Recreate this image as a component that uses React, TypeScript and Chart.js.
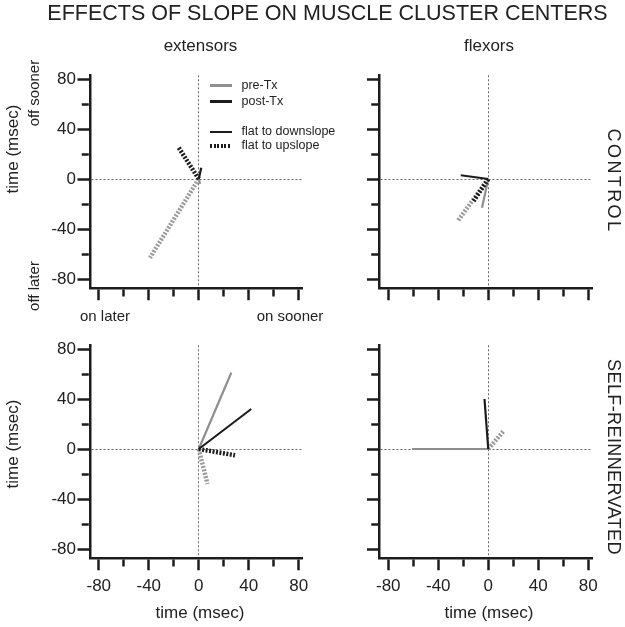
import React, { useEffect, useRef } from 'react';
import { Chart, registerables } from 'chart.js';

Chart.register(...registerables);

// ---- axis data ----
const AXIS_MIN = -87;
const AXIS_MAX = 83;
const TICK_STEP = 20;
const MAJOR_STEP = 40;

// ---- series data: end point [x, y] of each shift vector (all start at origin) ----
// extensors, CONTROL
const extCtrlPreDown = [1, -4];
const extCtrlPreUp = [-39, -63];
const extCtrlPostDown = [2, 9];
const extCtrlPostUp = [-16, 25];
// flexors, CONTROL
const flxCtrlPreDown = [-5, -23];
const flxCtrlPreUp = [-24, -33];
const flxCtrlPostDown = [-22, 3];
const flxCtrlPostUp = [-12, -18];
// extensors, SELF-REINNERVATED
const extSelfPreDown = [26, 61];
const extSelfPreUp = [7, -28];
const extSelfPostDown = [42, 32];
const extSelfPostUp = [29, -5];
// flexors, SELF-REINNERVATED
const flxSelfPreDown = [-61, 0];
const flxSelfPreUp = [12, 14];
const flxSelfPostDown = [-3, 40];
const flxSelfPostUp = [0, 0];

const FONT = "'Liberation Sans', Arial, Helvetica, sans-serif";
const GRAY = '#8f8f8f';
const BLACK = '#1c1c1c';
const TEXT = '#222';

type Panel = {
  area: { l: number; t: number; r: number; b: number };
  xLabels: boolean;
  yLabels: boolean;
  postDown: number[];
  postUp: number[];
  preDown: number[];
  preUp: number[];
};

const panels: Panel[] = [
  { area: { l: 90, t: 75.25, r: 302.5, b: 287.75 }, xLabels: false, yLabels: true,
    postDown: extCtrlPostDown, postUp: extCtrlPostUp, preDown: extCtrlPreDown, preUp: extCtrlPreUp },
  { area: { l: 379.5, t: 75.25, r: 592, b: 287.75 }, xLabels: false, yLabels: false,
    postDown: flxCtrlPostDown, postUp: flxCtrlPostUp, preDown: flxCtrlPreDown, preUp: flxCtrlPreUp },
  { area: { l: 90, t: 345.25, r: 302.5, b: 557.75 }, xLabels: true, yLabels: true,
    postDown: extSelfPostDown, postUp: extSelfPostUp, preDown: extSelfPreDown, preUp: extSelfPreUp },
  { area: { l: 379.5, t: 345.25, r: 592, b: 557.75 }, xLabels: true, yLabels: false,
    postDown: flxSelfPostDown, postUp: flxSelfPostUp, preDown: flxSelfPreDown, preUp: flxSelfPreUp },
];

const W = 625;
const H = 627;
const Y_W = 60;
const X_H = 45;
const TICK_LEN = 12.5;

function vec(end: number[]) {
  return [{ x: 0, y: 0 }, { x: end[0], y: end[1] }];
}

function isMajor(v: number) {
  return Math.abs(v % MAJOR_STEP) < 1e-6;
}

function makeScale(horizontal: boolean, showLabels: boolean, fit: number) {
  return {
    type: 'linear' as const,
    min: AXIS_MIN,
    max: AXIS_MAX,
    afterFit: (s: any) => {
      if (horizontal) s.height = fit; else s.width = fit;
    },
    ticks: {
      stepSize: TICK_STEP,
      includeBounds: false,
      autoSkip: false,
      maxRotation: 0,
      minRotation: 0,
      padding: horizontal ? 6 : 1.5,
      color: TEXT,
      font: { family: FONT, size: 17 },
      callback: (v: any) => (showLabels && isMajor(Number(v)) ? String(v) : ''),
    },
    grid: {
      display: true,
      drawOnChartArea: true,
      drawTicks: true,
      tickLength: TICK_LEN,
      tickWidth: 2.5,
      tickColor: BLACK,
      lineWidth: 1,
      color: (ctx: any) => (ctx.tick && ctx.tick.value === 0 ? '#6a6a6a' : 'rgba(0,0,0,0)'),
      tickBorderDash: (ctx: any) => {
        const v = ctx.tick ? ctx.tick.value : 0;
        if (isMajor(v)) return [];
        return horizontal ? [7, 20] : [0, 4.25, 7, 20];
      },
    },
    border: { display: true, color: BLACK, width: 2.5, dash: [2, 2] },
  };
}

function PanelChart({ p }: { p: Panel }) {
  const ref = useRef<HTMLCanvasElement>(null);
  useEffect(() => {
    const a = p.area;
    const chart = new Chart(ref.current as HTMLCanvasElement, {
      type: 'scatter',
      data: {
        datasets: [
          { label: 'post-Tx flat to downslope', data: vec(p.postDown), borderColor: BLACK, borderWidth: 2.2, showLine: true, pointRadius: 0 },
          { label: 'post-Tx flat to upslope', data: vec(p.postUp), borderColor: BLACK, borderWidth: 4.5, borderDash: [2, 1.5], showLine: true, pointRadius: 0 },
          { label: 'pre-Tx flat to downslope', data: vec(p.preDown), borderColor: GRAY, borderWidth: 2.2, showLine: true, pointRadius: 0 },
          { label: 'pre-Tx flat to upslope', data: vec(p.preUp), borderColor: '#9a9a9a', borderWidth: 4.5, borderDash: [2, 1.5], showLine: true, pointRadius: 0 },
        ],
      },
      options: {
        animation: false,
        responsive: false,
        events: [],
        layout: {
          padding: { left: a.l - Y_W, top: a.t, right: W - a.r, bottom: H - a.b - X_H },
        },
        plugins: { legend: { display: false }, tooltip: { enabled: false }, title: { display: false } },
        scales: {
          x: makeScale(true, p.xLabels, X_H) as any,
          y: makeScale(false, p.yLabels, Y_W) as any,
        },
      },
    });
    return () => chart.destroy();
  }, []);
  return <canvas ref={ref} width={W} height={H} style={{ position: 'absolute', left: 0, top: 0 }} />;
}

function Txt({ x, base, size, text, align = 'center' }: { x: number; base: number; size: number; text: string; align?: string }) {
  const top = base - 0.8465 * size;
  const tx = align === 'center' ? 'translateX(-50%)' : 'none';
  return (
    <div style={{ position: 'absolute', left: x, top, fontSize: size, lineHeight: 1, fontFamily: FONT, color: TEXT, whiteSpace: 'nowrap', transform: tx }}>
      {text}
    </div>
  );
}

function RotTxt({ cx, cy, size, text, deg, spacing = 0 }: { cx: number; cy: number; size: number; text: string; deg: number; spacing?: number }) {
  return (
    <div style={{ position: 'absolute', left: cx, top: cy, fontSize: size, lineHeight: 1, fontFamily: FONT, color: TEXT, whiteSpace: 'nowrap', letterSpacing: spacing, transform: `translate(-50%, -50%) rotate(${deg}deg)` }}>
      {text}
    </div>
  );
}

function Sample({ y, color, dotted }: { y: number; color: string; dotted?: boolean }) {
  const h = dotted ? 4 : 2.4;
  return (
    <div style={{
      position: 'absolute', left: 210, top: y - h / 2, width: 22, height: h,
      background: dotted ? `repeating-linear-gradient(to right, ${color} 0 2px, transparent 2px 3.6px)` : color,
    }} />
  );
}

export default function App() {
  return (
    <div style={{ position: 'absolute', left: 0, top: 0, width: W, height: H, background: '#fff', overflow: 'hidden' }}>
      {panels.map((p, i) => <PanelChart key={i} p={p} />)}
      <Txt x={327.5} base={20.7} size={21.5} text="EFFECTS OF SLOPE ON MUSCLE CLUSTER CENTERS" />
      <Txt x={200.5} base={51.7} size={17} text="extensors" />
      <Txt x={489} base={51.7} size={17} text="flexors" />
      <Sample y={85.5} color={GRAY} />
      <Sample y={101.5} color={BLACK} />
      <Sample y={132} color={BLACK} />
      <Sample y={146} color={BLACK} dotted />
      <Txt x={241.5} base={90} size={12.5} text="pre-Tx" align="left" />
      <Txt x={241.5} base={106} size={12.5} text="post-Tx" align="left" />
      <Txt x={241.5} base={136} size={12.5} text="flat to downslope" align="left" />
      <Txt x={241.5} base={150} size={12.5} text="flat to upslope" align="left" />
      <Txt x={105} base={320.5} size={15} text="on later" />
      <Txt x={290} base={320.5} size={15} text="on sooner" />
      <Txt x={200} base={618} size={17} text="time (msec)" />
      <Txt x={489} base={618} size={17} text="time (msec)" />
      <RotTxt cx={12} cy={149} size={17} text="time (msec)" deg={-90} />
      <RotTxt cx={12} cy={444} size={17} text="time (msec)" deg={-90} />
      <RotTxt cx={32.5} cy={92.5} size={15} text="off sooner" deg={-90} />
      <RotTxt cx={32.5} cy={286} size={15} text="off later" deg={-90} />
      <RotTxt cx={614} cy={181} size={18} text="CONTROL" deg={90} spacing={2.4} />
      <RotTxt cx={614} cy={456.5} size={18} text="SELF-REINNERVATED" deg={90} spacing={0.4} />
    </div>
  );
}
